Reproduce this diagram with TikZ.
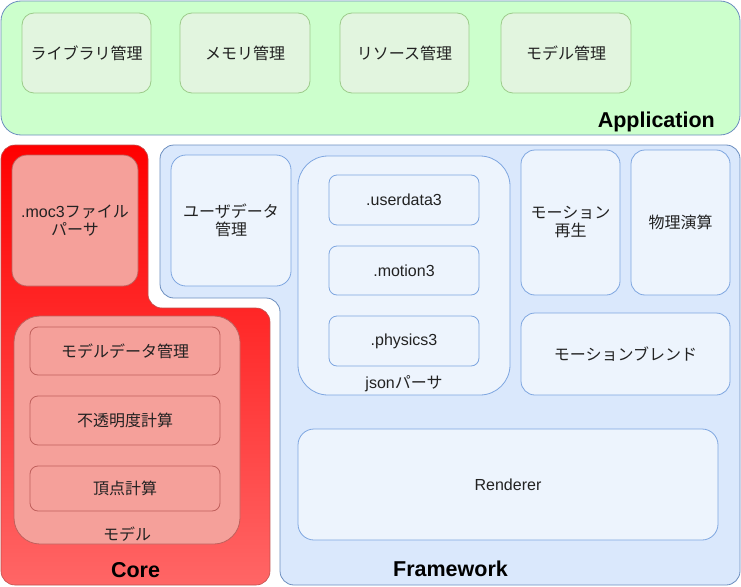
\documentclass[tikz,border=0pt]{standalone}
\usepackage{fontspec}
\setmainfont{Liberation Sans}
\newfontfamily\jp{Noto Sans CJK JP}
\usetikzlibrary{positioning}

\definecolor{appfill}{HTML}{CCFFCC}
\definecolor{appboxfill}{HTML}{E2F5DF}
\definecolor{appboxline}{HTML}{9CCB8A}
\definecolor{blueline}{HTML}{6C8EBF}
\definecolor{fwfill}{HTML}{DAE8FC}
\definecolor{fwboxfill}{HTML}{EDF4FD}
\definecolor{fwboxline}{HTML}{7EA6E0}
\definecolor{coretop}{HTML}{FF0000}
\definecolor{corebottom}{HTML}{FF6666}
\definecolor{coreline}{HTML}{C0504D}
\definecolor{coreboxfill}{HTML}{F5A09A}
\definecolor{coreboxline}{HTML}{C0605C}
\definecolor{txt}{HTML}{222222}

\tikzset{
	plain/.style={align=center, text=txt, inner sep=0pt, font=\fontsize{16}{18}\selectfont},
	boxbase/.style={plain, rounded corners=#1, line width=0.8pt},
	boxbase/.default=10pt,
	appbox/.style={boxbase=12pt, draw=appboxline, fill=appboxfill},
	fwbox/.style={boxbase=#1, draw=fwboxline, fill=fwboxfill},
	fwbox/.default=14pt,
	corebox/.style={boxbase=#1, draw=coreboxline, fill=coreboxfill},
	corebox/.default=8pt,
	title/.style={text=black, inner sep=0pt, font=\fontsize{21.5}{24}\selectfont\bfseries},
}

% corners x1 y1 x2 y2 in px
\newcommand{\rbox}[7]{
	\pgfmathsetmacro{\RBx}{(#3+#5)/2}
	\pgfmathsetmacro{\RBy}{(#4+#6)/2}
	\pgfmathsetmacro{\RBw}{#5-#3}
	\pgfmathsetmacro{\RBh}{#6-#4}
	\node[#1, minimum width=\RBw pt, minimum height=\RBh pt] (#2) at (\RBx,\RBy) {#7};
}

\begin{document}
\begin{tikzpicture}[x=1pt, y=-1pt]
\useasboundingbox (0,0) rectangle (741,586);

% Application
\rbox{boxbase=20pt, draw=blueline, fill=appfill}{app}{1}{1}{740}{135}{}
\rbox{appbox}{lib}{22}{13}{151}{93}{\jp ライブラリ管理}
\rbox{appbox}{mem}{180}{13}{310}{93}{\jp メモリ管理}
\rbox{appbox}{res}{340}{13}{469}{93}{\jp リソース管理}
\rbox{appbox}{mdl}{501}{13}{631}{93}{\jp モデル管理}
\node[title, anchor=base east] (apptxt) at (715,127) {Application};

% Core
\draw[coreline, line width=0.6pt, top color=coretop, bottom color=corebottom, rounded corners=14pt]
	(1,145) -- (148,145) -- (148,308) -- (270,308) -- (270,585) -- (1,585) -- cycle;
\rbox{corebox=15pt}{moc}{12}{155}{138}{286}{.moc3{\jp ファイル}\\{\jp パーサ}}
\rbox{corebox=26pt}{model}{14}{316}{240}{544}{}
\node[plain, above=3pt of model.south] (modeltxt) {\jp モデル};
\rbox{corebox}{mdata}{30}{327}{220}{375}{\jp モデルデータ管理}
\rbox{corebox}{opa}{30}{396}{220}{445}{\jp 不透明度計算}
\rbox{corebox}{vtx}{30}{466}{220}{511}{\jp 頂点計算}
\node[title, anchor=base] (coretxt) at (135.5,577) {Core};

% Framework
\draw[blueline, line width=0.8pt, fill=fwfill, rounded corners=14pt]
	(160,145) -- (740,145) -- (740,585) -- (280,585) -- (280,298) -- (160,298) -- cycle;
\rbox{fwbox=15pt}{user}{171}{155}{291}{286}{\jp ユーザデータ\\\jp 管理}
\rbox{fwbox=30pt}{json}{298}{156}{510}{395}{}
\node[plain, above=3pt of json.south] (jsontxt) {json{\jp パーサ}};
\rbox{fwbox=8pt}{udata}{329}{175}{479}{225}{.userdata3}
\rbox{fwbox=8pt}{motion}{329}{246}{479}{295}{.motion3}
\rbox{fwbox=8pt}{phys}{329}{316}{479}{366}{.physics3}
\rbox{fwbox}{play}{521}{150}{620}{295}{\jp モーション\\\jp 再生}
\rbox{fwbox}{physcalc}{631}{150}{730}{295}{\jp 物理演算}
\rbox{fwbox}{blend}{521}{313}{730}{395}{\jp モーションブレンド}
\rbox{fwbox=16pt}{render}{298}{429}{718}{540}{Renderer}
\node[title, anchor=base] (fwtxt) at (450.5,576) {Framework};
\end{tikzpicture}
\end{document}
